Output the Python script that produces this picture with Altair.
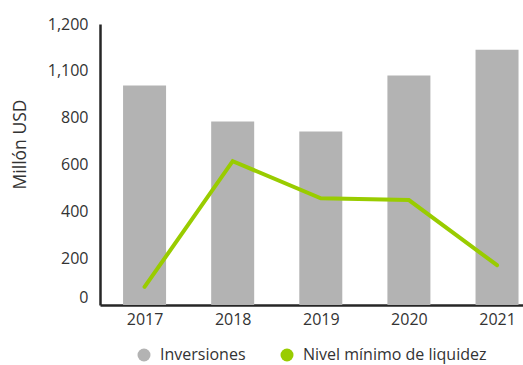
import altair as alt
import pandas as pd

years = [2017, 2018, 2019, 2020, 2021]
inversiones = [937, 784, 741, 980, 1090]
nivel_minimo = [77, 614, 456, 448, 170]
series_names = ["Inversiones", "Nivel mínimo de liquidez"]
series_colors = ["#b3b3b3", "#99cc00"]
y_tick_values = [0, 200, 400, 600, 800, 1000, 1200]
y_tick_labels = ["0", "200", "400", "600", "800", "1,100", "1,200"]

rows = []
for yr, v in zip(years, inversiones):
    rows.append({"year": yr, "series": series_names[0], "value": v})
for yr, v in zip(years, nivel_minimo):
    rows.append({"year": yr, "series": series_names[1], "value": v})
df = pd.DataFrame(rows)

FONT = "Open Sans"

label_expr = "[" + ",".join(f"'{l}'" for l in y_tick_labels) + "][indexof([" + \
    ",".join(str(v) for v in y_tick_values) + "], datum.value)]"

x_enc = alt.X(
    "year:Q",
    scale=alt.Scale(domain=[2016.551, 2021.238], nice=False, zero=False),
    axis=alt.Axis(
        values=years, format="d", title=None, grid=False, ticks=False, tickSize=0,
        labelPadding=6, labelFontSize=16, labelColor="#333333", labelFont=FONT,
        domainColor="#262626", domainWidth=2.5, labelFlush=False,
    ),
)
y_enc = alt.Y(
    "value:Q",
    scale=alt.Scale(domain=[0, 1200], nice=False),
    axis=alt.Axis(
        values=y_tick_values, labelExpr=label_expr, title="Millón USD",
        grid=False, ticks=False, tickSize=0, labelPadding=12,
        labelFontSize=16, labelColor="#333333", labelFont=FONT,
        labelOffset={"condition": {"test": "datum.value === 0", "value": -8}, "value": 0},
        domainColor="#262626", domainWidth=2.5,
        titleFont=FONT, titleFontSize=17.5, titleFontWeight="normal", titleColor="#333333",
        titleX=-80, titleY=120, titleAngle=-90, titleBaseline="middle", titleAlign="center",
    ),
)

bars = alt.Chart(df).transform_filter(
    alt.datum.series == series_names[0]
).mark_bar(size=43).encode(
    x=x_enc,
    y=y_enc,
    color=alt.Color(
        "series:N",
        scale=alt.Scale(domain=series_names, range=series_colors),
        legend=alt.Legend(
            title=None, orient="none", legendX=36, legendY=42 + 281, direction="horizontal",
            symbolType="circle", symbolSize=169, symbolStrokeWidth=0,
            labelFont=FONT, labelFontSize=16, labelColor="#333333", labelLimit=0,
            columnPadding=33, symbolOffset=0, labelOffset=8,
        ),
    ),
)

line = alt.Chart(df).transform_filter(
    alt.datum.series == series_names[1]
).mark_line(strokeWidth=4, strokeCap="round", strokeJoin="miter").encode(
    x="year:Q",
    y="value:Q",
    color=alt.value(series_colors[1]),
)

chart = alt.layer(bars, line).properties(
    width=423, height=281,
    padding={"left": 100, "top": 24, "right": 0, "bottom": 60},
    autosize=alt.AutoSizeParams(type="none"),
    background="white",
).configure_view(stroke=None)

chart.save("out.html", embed_options={"renderer": "svg", "actions": False})
